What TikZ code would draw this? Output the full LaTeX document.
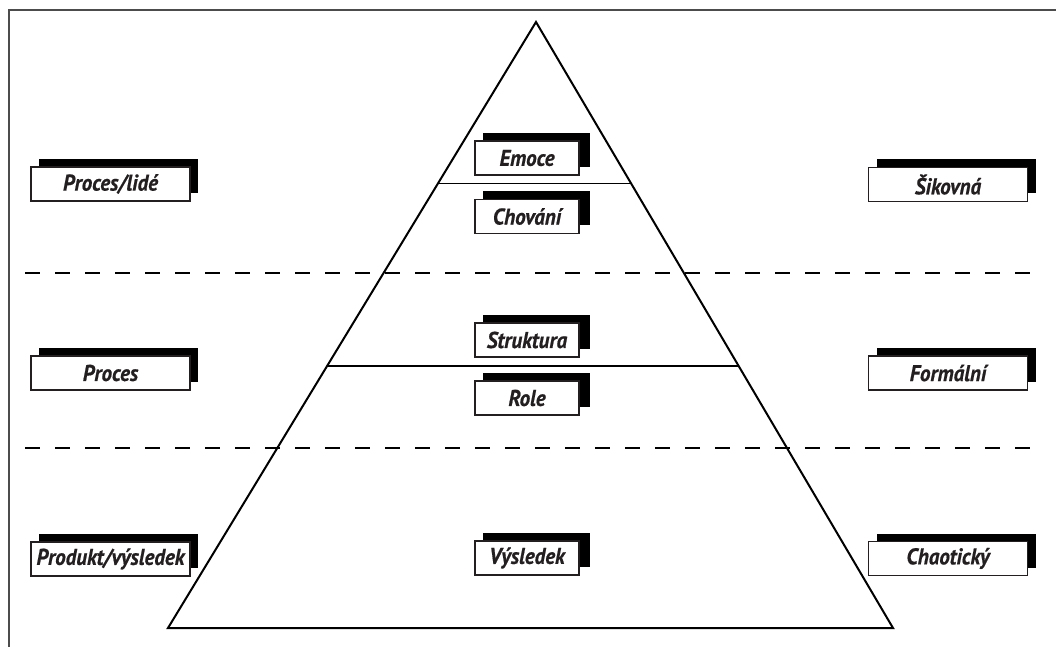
\documentclass[tikz,border=0pt]{standalone}
\usepackage{fontspec}
\setmainfont{PT Sans}[FakeStretch=0.92, FakeBold=0.6]
\usepackage{xcolor}
\usetikzlibrary{shadows,calc}
\definecolor{inkgray}{HTML}{231F20}

\begin{document}
\begin{tikzpicture}[
        x=0.5pt, y=-0.5pt,
        label box/.style={rectangle, draw=inkgray, line width=0.6pt, fill=white, inner sep=0pt, minimum height=17pt, text=inkgray, font=\fontsize{11.4}{13}\selectfont\bfseries\itshape, drop shadow={shadow xshift=4pt, shadow yshift=4pt, fill=black, opacity=1}},
        side box/.style={label box, minimum width=79.5pt},
        layer box/.style={label box, minimum width=52pt, drop shadow={shadow xshift=5.5pt, shadow yshift=4pt, fill=black, opacity=1}},
        divider/.style={draw=black, line width=0.6pt, dash pattern=on 7.5pt off 7.5pt},
        pyramid/.style={draw=black, line width=1pt}
    ]
        \useasboundingbox (0,0) rectangle (1056,647);

        % Frame
        \coordinate (frametl) at (9,10);
        \coordinate (frametr) at (1056,10);
        \coordinate (framebl) at (9,647);
        \draw [draw=black!70, line width=0.7pt] (frametr) -- (frametl) -- (framebl);

        % Dashed dividers
        \coordinate (dashAl) at (25,273);
        \coordinate (dashAr) at (1042,273);
        \coordinate (dashBl) at (25,448);
        \coordinate (dashBr) at (1042,448);
        \draw [divider] (dashAl) -- (dashAr);
        \draw [divider] (dashBl) -- (dashBr);

        % Pyramid
        \coordinate (apex) at (536,22);
        \coordinate (baseleft) at (168,628);
        \coordinate (baseright) at (893,628);
        \draw [pyramid] (apex) -- (baseleft) -- (baseright) -- cycle;
        \draw [line width=0.6pt] ($(apex)!0.267!(baseleft)$) -- ($(apex)!0.267!(baseright)$);
        \draw [line width=0.6pt] ($(apex)!0.5677!(baseleft)$) -- ($(apex)!0.5677!(baseright)$);

        % Pyramid layers
        \node [layer box] (emoce) at (527,158) {Emoce};
        \node [layer box] (chovani) at (527,216.5) {Chování};
        \node [layer box] (struktura) at (527,340) {Struktura};
        \node [layer box] (role) at (527,398) {Role};
        \node [layer box] (vysledek) at (527,558) {Výsledek};

        % Left column
        \node [side box] (proceslide) at (110.5,184) {Proces/lidé};
        \node [side box] (proces) at (110.5,373) {Proces};
        \node [side box] (produkt) at (110.5,559) {Produkt/výsledek};

        % Right column
        \node [side box] (sikovna) at (948,184.5) {Šikovná};
        \node [side box] (formalni) at (948,373) {Formální};
        \node [side box] (chaoticky) at (948,558.5) {Chaotický};

    \end{tikzpicture}
\end{document}
